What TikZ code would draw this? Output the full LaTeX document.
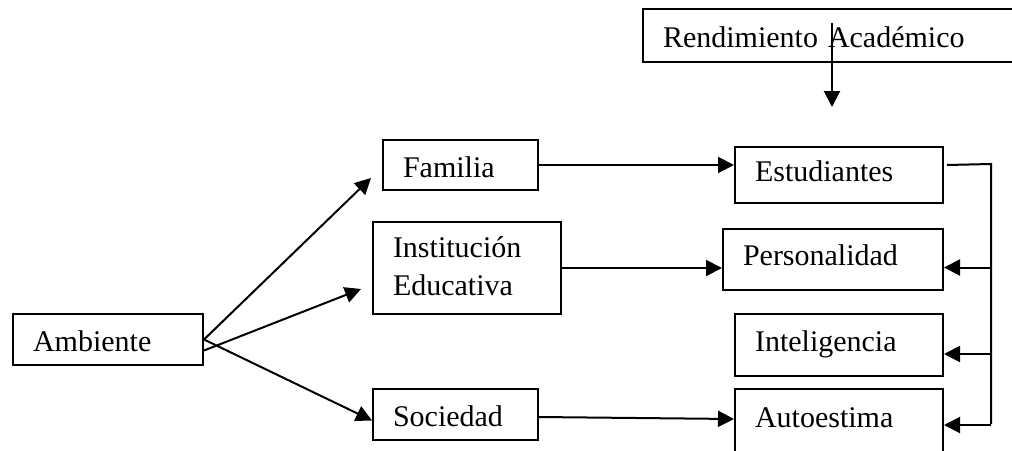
\documentclass[tikz,border=0pt]{standalone}
\usepackage{fontspec}
\setmainfont{Liberation Serif}
\usetikzlibrary{arrows.meta}

\begin{document}
\begin{tikzpicture}[x=0.5pt,y=-0.5pt,
  >={Triangle[length=8pt,width=8pt]},
  box/.style={draw,line width=1pt,anchor=north west,align=left,
    inner xsep=10pt,inner ysep=0pt,text height=12pt,text depth=0pt,
    font=\fontsize{15}{19}\selectfont},
  rbox/.style={box,text height=9.8pt,text depth=3.5pt},
  link/.style={line width=1pt}]
%
  \useasboundingbox (0,0) rectangle (1012,450);
  \clip (0,0) rectangle (1012,450);
%
  \node[box,text width=180pt,minimum height=26.5pt] (rend) at (642,8) {Rendimiento Académico};
  \node[box,text width=75pt,minimum height=25.5pt] (amb) at (12,313) {Ambiente};
  \node[box,text width=57.5pt,minimum height=25pt] (fam) at (382,139) {Familia};
  \node[box,text width=74pt,minimum height=46pt,text height=9.8pt,text depth=20.5pt] (inst) at (372,221) {Institución\\Educativa};
  \node[box,text width=62.5pt,minimum height=25.5pt] (soc) at (372,388) {Sociedad};
  \node[rbox,text width=84pt,minimum height=28pt] (est) at (734,146) {Estudiantes};
  \node[rbox,text width=90pt,minimum height=30.5pt] (per) at (722,228) {Personalidad};
  \node[rbox,text width=84pt,minimum height=31pt] (int) at (734,313) {Inteligencia};
  \node[rbox,text width=84pt,minimum height=32pt] (aut) at (734,388) {Autoestima};
%
  \coordinate (rendIn) at ([xshift=95pt,yshift=-7.5pt]rend.north west);
  \coordinate (rendOut) at (832,107);
  \draw[link,->] (rendIn) -- (rendOut);
%
  \draw[link,->] (amb.east) -- ([xshift=-5.5pt,yshift=6.5pt]fam.south west);
  \draw[link,->] ([yshift=-5.5pt]amb.east) -- ([xshift=-5.5pt,yshift=-10.5pt]inst.west);
  \draw[link,->] (amb.east) -- ([yshift=-3pt]soc.west);
%
  \draw[link,->] (fam.east) -- (fam.east -| est.west);
  \draw[link,->] (inst.east) -- (inst.east -| per.west);
  \draw[link,->] ([yshift=-1.25pt]soc.east) -- ([yshift=1pt]aut.west);
%
  \coordinate (busTop) at (991,164);
  \coordinate (busBot) at (991,424);
  \draw[link] ([xshift=1.5pt,yshift=5pt]est.east) -- (busTop) -- (busBot);
  \foreach \n/\dy in {per/-4pt,int/-4.5pt,aut/-2pt} {
    \coordinate (t\n) at ([yshift=\dy]\n.east);
    \draw[link,->] (t\n -| busTop) -- (t\n);
  }
\end{tikzpicture}
\end{document}
